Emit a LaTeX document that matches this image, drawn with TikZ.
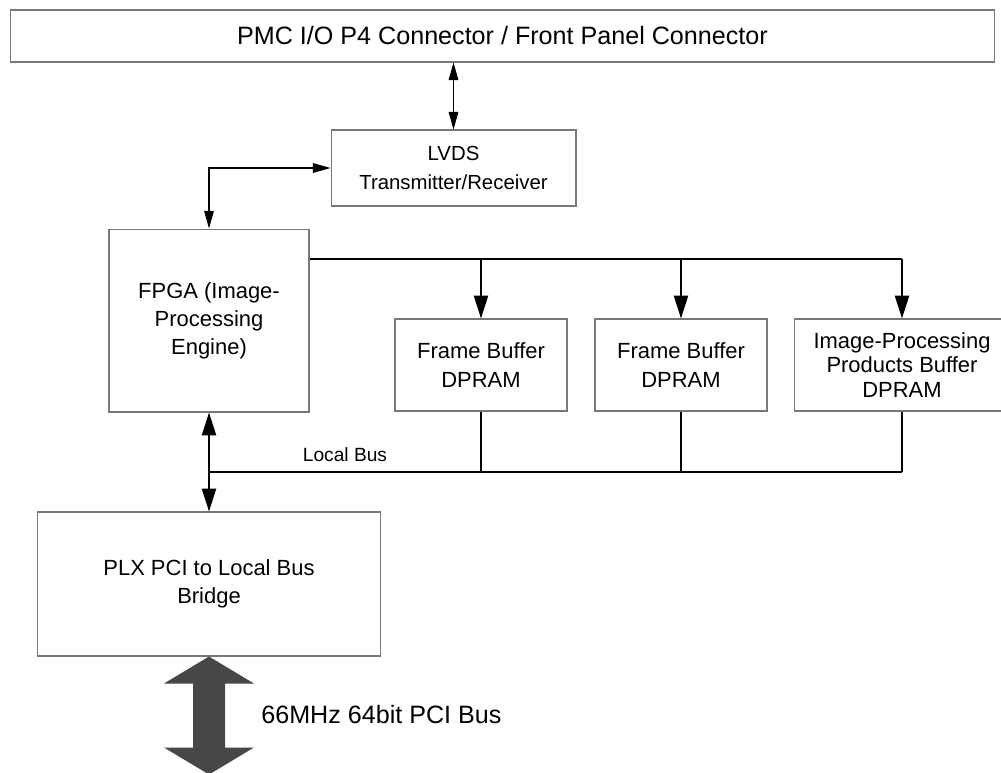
\documentclass[tikz,border=0pt]{standalone}
\usepackage{fontspec}
\setmainfont{Liberation Sans}
\usepackage{tikz}
\usetikzlibrary{arrows.meta, positioning, calc}
\tikzstyle{block} = [draw=boxgray, line width=0.6pt, fill=white, align=center, inner sep=0pt, font=\fontsize{12.5}{16}\selectfont]
\tikzstyle{link} = [line width=0.6pt, {Triangle[length=10pt,width=5.5pt]}-{Triangle[length=10pt,width=5.5pt]}]
\tikzstyle{bus} = [line width=1.15pt, -{Triangle[length=13pt,width=8pt]}]
\tikzstyle{tap} = [line width=0.6pt]

\begin{document}
\begin{tikzpicture}[x=0.02cm, y=-0.02cm]
\definecolor{boxgray}{RGB}{120,120,120}
\definecolor{pcigray}{RGB}{71,71,71}
\useasboundingbox (0,0) rectangle (1001,772);

% Blocks
\node[block, minimum width=19.7cm, minimum height=1.04cm, font=\fontsize{14.3}{16}\selectfont] (pmc) at (502.5,36) {PMC I/O P4 Connector / Front Panel Connector};
\node[block, minimum width=4.9cm, minimum height=1.52cm, font=\fontsize{11.6}{16}\selectfont] (lvds) at (453.5,168) {LVDS\\Transmitter/Receiver};
\node[block, minimum width=4cm, minimum height=3.66cm] (fpga) at (209,320.5) {FPGA (Image-\\Processing\\Engine)};
\node[block, minimum width=3.44cm, minimum height=1.84cm] (fbufa) at (481,365) {Frame Buffer\\DPRAM};
\node[block, minimum width=3.44cm, minimum height=1.84cm] (fbufb) at (681,365) {Frame Buffer\\DPRAM};
\node[block, minimum width=4.32cm, minimum height=1.84cm, font=\fontsize{12.5}{14}\selectfont] (ipbuf) at (902,365) {Image-Processing\\Products Buffer\\DPRAM};
\node[block, minimum width=6.88cm, minimum height=2.88cm] (plx) at (209,584) {PLX PCI to Local Bus\\Bridge};

% LVDS links
\draw[link] (lvds.north |- pmc.south) -- (lvds.north);
\draw[link] (lvds.west) -| (fpga.north);

% FPGA to buffers
\coordinate (fbus) at (0,259);
\draw[line width=1.15pt] (fpga.east |- fbus) -- (ipbuf.north |- fbus);
\foreach \b in {fbufa, fbufb, ipbuf}
    \draw[bus] (\b.north |- fbus) -- (\b.north);

% Local bus
\coordinate (lbus) at (0,472);
\draw[line width=1.15pt] (fpga.south |- lbus) -- (ipbuf.south |- lbus);
\foreach \b in {fbufa, fbufb, ipbuf}
    \draw[tap] (\b.south) -- (\b.south |- lbus);
\draw[bus, {Triangle[length=13pt,width=8pt]}-{Triangle[length=13pt,width=8pt]}] (fpga.south) -- (plx.north);
\node[inner sep=0pt, font=\fontsize{10.9}{13}\selectfont] (lbuslabel) at (345,455) {Local Bus};

% PCI bus
\fill[pcigray, shift={(plx.south)}] (0,0) -- (45,27) -- (16,27) -- (16,91) -- (45,91) -- (0,118) -- (-45,91) -- (-16,91) -- (-16,27) -- (-45,27) -- cycle;
\node[anchor=west, inner sep=0pt, font=\fontsize{14.3}{17}\selectfont] (pcilabel) at (261,715) {66MHz 64bit PCI Bus};

\end{tikzpicture}
\end{document}
